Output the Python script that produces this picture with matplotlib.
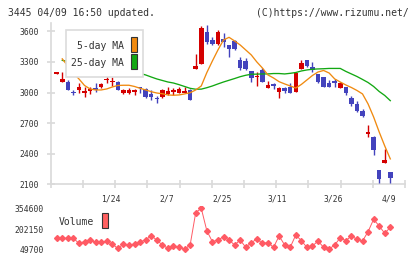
import numpy as np
import matplotlib
matplotlib.use("Agg")
import matplotlib.pyplot as plt
from matplotlib.patches import Rectangle

# daily candles, 1/10 .. 4/9 (61 trading days)
opens = [3185, 3106, 3106, 3008, 3025, 2998, 3015, 3044, 3051, 3122,
         3103, 3100, 2992, 2998, 3005, 3057, 3035, 2984, 2937, 2959,
         2986, 3006, 2992, 3000, 3025, 3228, 3280, 3596, 3515, 3475,
         3525, 3466, 3505, 3319, 3309, 3211, 3148, 3221, 3047, 3069,
         3008, 3047, 3057, 3008, 3228, 3319, 3253, 3182, 3150, 3090,
         3098, 3041, 3051, 2949, 2888, 2819, 2598, 2561, 2241, 2306,
         2224]
highs = [3192, 3204, 3120, 3025, 3090, 3057, 3057, 3090, 3090, 3160,
         3150, 3110, 3030, 3040, 3030, 3057, 3040, 3020, 2970, 3035,
         3051, 3040, 3057, 3057, 3030, 3378, 3650, 3660, 3540, 3613,
         3580, 3466, 3515, 3350, 3340, 3211, 3205, 3243, 3113, 3096,
         3057, 3050, 3096, 3204, 3319, 3319, 3296, 3182, 3150, 3123,
         3130, 3100, 3051, 2969, 2920, 2836, 2682, 2574, 2241, 2444,
         2224]
lows = [3185, 3106, 3025, 2976, 2992, 2959, 2986, 3008, 3040, 3090,
        3065, 3025, 2985, 2982, 2975, 2998, 2945, 2925, 2895, 2950,
        2980, 2975, 2992, 2995, 2927, 3228, 3280, 3480, 3465, 3465,
        3449, 3351, 3420, 3220, 3220, 3106, 3067, 3106, 3047, 3035,
        2950, 2998, 2998, 3008, 3228, 3250, 3204, 3096, 3051, 3051,
        3057, 3041, 2975, 2871, 2806, 2757, 2561, 2388, 2110, 2306,
        2110]
closes = [3190, 3130, 3025, 2992, 3051, 3008, 3035, 3025, 3080, 3127,
          3107, 3025, 3025, 3025, 3020, 3041, 2953, 2953, 2933, 3025,
          3015, 3010, 3035, 3018, 2927, 3260, 3629, 3498, 3473, 3596,
          3498, 3427, 3424, 3237, 3228, 3145, 3153, 3106, 3073, 3065,
          3041, 3018, 2998, 3194, 3286, 3263, 3221, 3106, 3051, 3051,
          3094, 3090, 2992, 2884, 2819, 2773, 2602, 2437, 2153, 2339,
          2165]

ma5 = [np.nan, 3330, 3260, 3190, 3133, 3069, 3035, 3025, 3025, 3035,
       3054, 3069, 3071, 3071, 3059, 3041, 3025, 3008, 2995, 2988,
       2976, 2973, 2976, 2986, 2998, 3025, 3064, 3195, 3309, 3417,
       3515, 3541, 3505, 3466, 3417, 3368, 3299, 3240, 3172, 3142,
       3106, 3084, 3064, 3044, 3079, 3123, 3167, 3201, 3216, 3191,
       3133, 3103, 3074, 3049, 3020, 2986, 2888, 2760, 2613, 2476,
       2349]
ma25 = [np.nan, 3315, 3305, 3295, 3285, 3275, 3265, 3255, 3245, 3235,
        3225, 3215, 3205, 3200, 3195, 3188, 3172, 3152, 3133, 3118,
        3103, 3093, 3077, 3059, 3041, 3032, 3033, 3047, 3064, 3084,
        3103, 3120, 3137, 3155, 3169, 3179, 3180, 3182, 3182, 3186,
        3186, 3182, 3188, 3196, 3211, 3221, 3228, 3231, 3233, 3236,
        3236, 3236, 3207, 3182, 3157, 3128, 3098, 3059, 3010, 2971,
        2920]

volume = [132900, 132900, 132900, 132900, 95100, 107200, 120100, 102700, 102700, 112500,
          87500, 57300, 89800, 82200, 89800, 107200, 120100, 152600, 120100, 82200,
          57300, 77000, 64800, 49700, 82200, 326600, 359900, 190400, 107200, 120100,
          145000, 120100, 82200, 120100, 64800, 99600, 127600, 95100, 99600, 64800,
          150300, 82200, 64800, 157900, 114800, 64800, 74700, 112500, 64800, 52000,
          82200, 137500, 114800, 150300, 125400, 112500, 182900, 276700, 226000, 170800,
          216200]

date_pos = [10, 20, 30, 40, 50, 60]
date_labels = ["1/24", "2/7", "2/25", "3/11", "3/26", "4/9"]
price_ticks = [2100, 2400, 2700, 3000, 3300, 3600]
vol_ticks = [49700, 202150, 354600]

RED = "#d40000"
BLUE = "#4343bd"
ORANGE = "#f08a10"
GREEN = "#12a812"
VOLC = "#ff5a64"
GRID = "#d9d9d9"
TXT = "#333333"
plt.rcParams['font.family'] = ['DejaVu Sans Mono']

W, H = 420, 259
fig = plt.figure(figsize=(W/100, H/100), dpi=100)

def fx(px):
	return px/W

def fy(py):
	return 1-py/H

x0, x1 = 50.7, 405.0
step = 5.56
first = 56.7
xl = ((x0-first)/step, (x1-first)/step)

# main price panel
top, bot = 23.0, 184.3
ypp = 1500/(184.3-31.3)
ax = fig.add_axes([fx(x0), fy(bot), (x1-x0)/W, (bot-top)/H])
ax.set_xlim(*xl)
ax.set_ylim(2100, 3600+(31.3-top)*ypp)

o = np.array(opens); c = np.array(closes)
hi = np.array(highs); lo = np.array(lows)
idx = np.arange(len(o))
up = c >= o
cols = np.where(up, RED, BLUE)
body_lo = np.minimum(o, c)
body_h = np.maximum(np.abs(c-o), 14)
ax.vlines(idx, lo, hi, colors=cols, linewidth=1.0, zorder=3)
ax.bar(idx, body_h, 0.82, bottom=body_lo, color=cols, linewidth=0, zorder=4)

ax.plot(idx, ma25, color=GREEN, lw=0.95, zorder=5)
ax.plot(idx, ma5, color=ORANGE, lw=0.95, zorder=5)

for s in ["top", "right"]:
	ax.spines[s].set_visible(False)
for s in ["left", "bottom"]:
	ax.spines[s].set_color(GRID)
	ax.spines[s].set_linewidth(1.2)
ax.set_yticks(price_ticks)
ax.set_yticklabels([str(v) for v in price_ticks])
ax.set_xticks(np.linspace(xl[0], xl[1], 12))
ax.set_xticklabels([])
ax.tick_params(axis="y", direction="inout", length=5.5, width=1.2, color=GRID,
	pad=5.4, labelsize=5.8, labelcolor=TXT)
ax.tick_params(axis="x", direction="inout", length=6, width=1.2, color=GRID)
ax.patch.set_alpha(0)

for p, lab in zip(date_pos, date_labels):
	fig.text(fx(first+p*step-1.5), fy(198.5), lab, ha="center", va="center",
		fontsize=5.8, color=TXT)

# legend of moving averages
fig.patches.append(Rectangle((fx(65.7), fy(77)), (143.3-65.7)/W, (77-30)/H,
	transform=fig.transFigure, facecolor="white", edgecolor="#dcdcdc", lw=1.2, zorder=10))
fig.text(fx(124), fy(46), "5-day MA", ha="right", va="center", fontsize=7, color=TXT, zorder=11)
fig.text(fx(124), fy(62.7), "25-day MA", ha="right", va="center", fontsize=7, color=TXT, zorder=11)
fig.patches.append(Rectangle((fx(131), fy(52.3)), 6.3/W, 15/H, transform=fig.transFigure,
	facecolor=ORANGE, edgecolor="#333333", lw=0.8, zorder=11))
fig.patches.append(Rectangle((fx(131), fy(69.3)), 6.3/W, 15/H, transform=fig.transFigure,
	facecolor=GREEN, edgecolor="#333333", lw=0.8, zorder=11))

# volume panel
vtop, vbot = 206.0, 252.0
vpp = (354600-49700)/(249.3-209.0)
vax = fig.add_axes([fx(x0), fy(vbot), (x1-x0)/W, (vbot-vtop)/H])
vax.set_xlim(*xl)
vax.set_ylim(49700-(vbot-249.3)*vpp, 354600+(209.0-vtop)*vpp)
vax.plot(idx, volume, color=VOLC, lw=0.7, marker="D", ms=3.0, mec=VOLC, mfc=VOLC)
for s in vax.spines.values():
	s.set_visible(False)
vax.set_xticks([])
vax.set_yticks(vol_ticks)
vax.set_yticklabels([str(v) for v in vol_ticks])
vax.tick_params(axis="y", length=0, pad=4.8, labelsize=5.8, labelcolor=TXT)
vax.patch.set_alpha(0)

fig.text(fx(58.7), fy(222.3), "Volume", ha="left", va="center", fontsize=7, color=TXT)
fig.patches.append(Rectangle((fx(101.7), fy(228.3)), 6.6/W, 15.6/H, transform=fig.transFigure,
	facecolor="#ff6060", edgecolor="#333333", lw=0.8))

fig.text(fx(8.3), fy(12.5), "3445 04/09 16:50 updated.", ha="left", va="center",
	fontsize=7, color=TXT)
fig.text(fx(408.5), fy(12.5), "(C)https://www.rizumu.net/", ha="right", va="center",
	fontsize=7, color=TXT)

fig.savefig("out.png", dpi=100)
